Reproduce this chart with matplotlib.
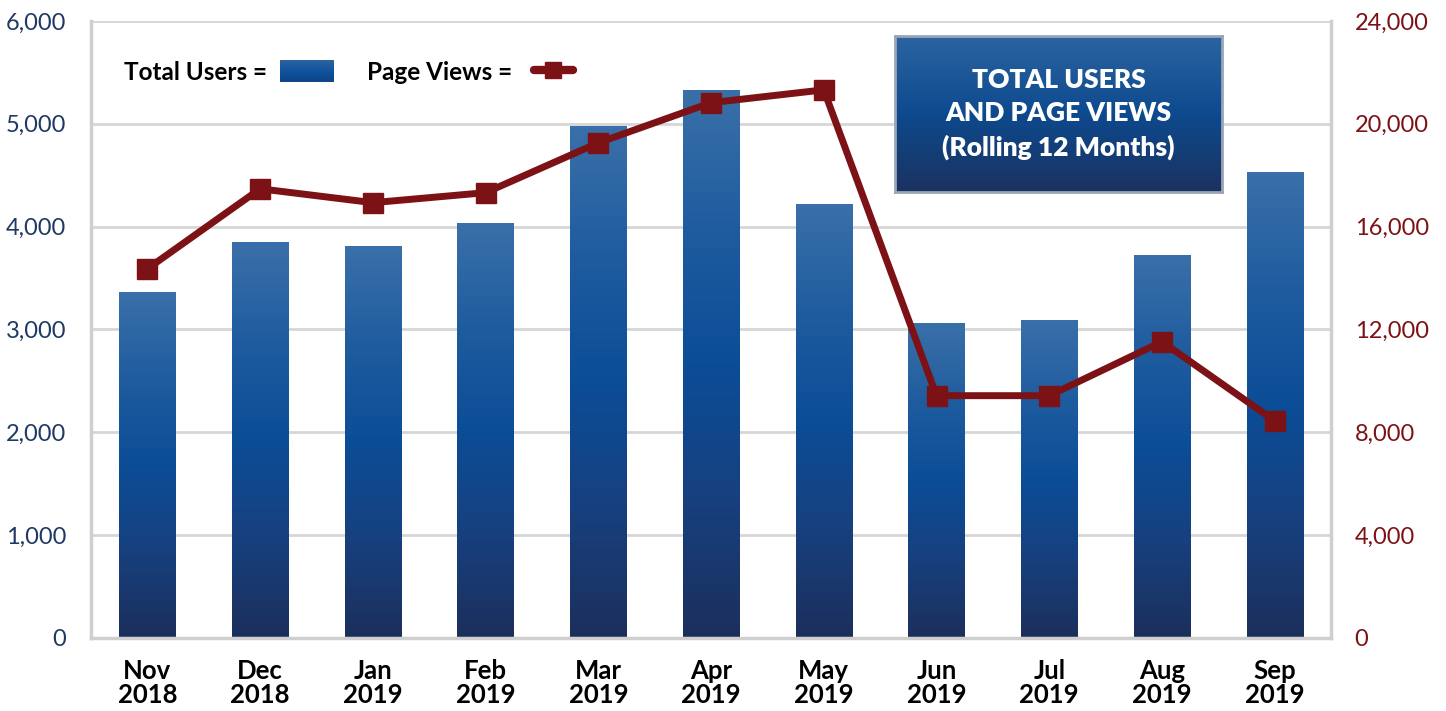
import matplotlib
matplotlib.use('Agg')
import matplotlib.pyplot as plt
import numpy as np
from matplotlib.colors import LinearSegmentedColormap
from matplotlib.lines import Line2D

# ─── Data ───────────────────────────────────────────────────────────
months = ['Nov\n2018', 'Dec\n2018', 'Jan\n2019', 'Feb\n2019', 'Mar\n2019', 'Apr\n2019',
          'May\n2019', 'Jun\n2019', 'Jul\n2019', 'Aug\n2019', 'Sep\n2019']
total_users = [3360, 3850, 3810, 4030, 4980, 5330, 4220, 3055, 3085, 3725, 4525]
page_views = [14360, 17470, 16930, 17320, 19260, 20820, 21320, 9420, 9420, 11520, 8440]
left_ticks = [0, 1000, 2000, 3000, 4000, 5000, 6000]
right_ticks = [0, 4000, 8000, 12000, 16000, 20000, 24000]

NAVY = '#1f3864'
RED = '#7d1216'
GRID = '#d6d6d6'
bar_cmap = LinearSegmentedColormap.from_list(
    'bars', ['#1c2f5c', '#17407e', '#0b4d97', '#1f5c9f', '#3a70a9'])
box_cmap = LinearSegmentedColormap.from_list(
    'box', ['#1b3260', '#0d4a8e', '#2c64a2'])

plt.rcParams['font.family'] = ['Lato', 'DejaVu Sans']

fig = plt.figure(figsize=(14.46, 7.11), dpi=100)
ax = fig.add_axes([0.063, 0.103, 0.8575, 0.8675])
ax2 = ax.twinx()

x = np.arange(len(months))
width = 0.5
grad = np.linspace(0, 1, 256).reshape(-1, 1)

# gradient-filled bars, one gradient per bar
for xi, val in zip(x, total_users):
    ax.imshow(grad, cmap=bar_cmap, aspect='auto', origin='lower',
              extent=[xi - width / 2, xi + width / 2, 0, val], zorder=2)
ax.set_xlim(-0.5, len(months) - 0.5)
ax.set_ylim(0, 6000)

ax.set_yticks(left_ticks)
ax.set_yticklabels([f'{v:,}' for v in left_ticks], color=NAVY, fontsize=17)
ax.set_xticks(x)
ax.set_xticklabels(months, fontsize=18.5, fontweight='bold', linespacing=1.0)
ax.tick_params(axis='x', length=0, pad=15)
ax.tick_params(axis='y', length=0, pad=18)
ax.grid(axis='y', color=GRID, linewidth=2, zorder=0)
ax.set_axisbelow(True)
for s in ['left', 'right', 'bottom']:
    ax.spines[s].set_color('#cfcfcf')
    ax.spines[s].set_linewidth(2.5)
ax.spines['top'].set_visible(False)

ax2.plot(x, page_views, color=RED, linewidth=5, marker='s', markersize=14,
         solid_capstyle='round', zorder=3)
ax2.set_ylim(0, 24000)
ax2.set_yticks(right_ticks)
ax2.set_yticklabels([f'{v:,}' for v in right_ticks], color=RED, fontsize=17)
ax2.tick_params(axis='y', length=0, pad=17)
for s in ['left', 'right', 'bottom', 'top']:
    ax2.spines[s].set_visible(False)

# legend
fig.text(0.086, 0.898, 'Total Users =', fontsize=17.5, fontweight='bold', va='center')
sw = fig.add_axes([0.1935, 0.884, 0.037, 0.031])
sw.imshow(np.linspace(0, 1, 64).reshape(-1, 1), cmap=bar_cmap, aspect='auto', origin='lower',
          vmin=-0.6, vmax=1.2)
sw.axis('off')
fig.text(0.254, 0.898, 'Page Views =', fontsize=17.5, fontweight='bold', va='center')
fig.add_artist(Line2D([0.369, 0.396], [0.901, 0.901], transform=fig.transFigure,
                      color=RED, linewidth=6, solid_capstyle='round'))
fig.add_artist(Line2D([0.3825], [0.901], transform=fig.transFigure, color=RED,
                      marker='s', markersize=12))

# title box
bx = fig.add_axes([0.619, 0.73, 0.226, 0.22])
bx.imshow(np.linspace(0, 1, 128).reshape(-1, 1), cmap=box_cmap, aspect='auto',
          origin='lower', extent=[0, 1, 0, 1])
bx.set_xticks([])
bx.set_yticks([])
for s in bx.spines.values():
    s.set_color('#9aa5b8')
    s.set_linewidth(2)
bx.text(0.5, 0.5, 'TOTAL USERS\nAND PAGE VIEWS\n(Rolling 12 Months)', color='white',
        fontsize=19, fontweight='heavy', ha='center', va='center', linespacing=1.45,
        transform=bx.transAxes)

fig.savefig('out.png', dpi=100, facecolor='white')
